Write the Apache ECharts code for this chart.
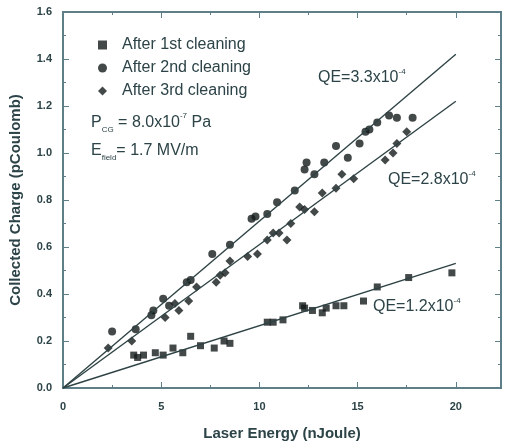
<!DOCTYPE html>
<html>
<head>
<meta charset="utf-8">
<script src="https://cdn.jsdelivr.net/npm/echarts@6/dist/echarts.min.js"></script>
<style>
  html, body { margin: 0; padding: 0; background: #fff; }
  #chart { width: 505px; height: 447px; }
</style>
</head>
<body>
<div id="chart"></div>
<script>
// values
const xTicks = [0, 5, 10, 15, 20];
const yTicks = [0, 0.2, 0.4, 0.6, 0.8, 1.0, 1.2, 1.4, 1.6];

const firstX = [3.6, 3.8, 4.1, 4.7, 5.1, 5.6, 6.1, 6.5, 7.0, 7.7, 8.2, 8.5, 10.4, 10.7, 11.2, 12.2, 12.3, 12.7, 13.2, 13.4, 13.9, 14.3, 15.3, 16.0, 17.6, 19.8];
const firstY = [0.14, 0.13, 0.14, 0.15, 0.14, 0.17, 0.15, 0.22, 0.18, 0.17, 0.20, 0.19, 0.28, 0.28, 0.29, 0.35, 0.34, 0.33, 0.32, 0.34, 0.35, 0.35, 0.37, 0.43, 0.47, 0.49];

const secondX = [2.5, 3.7, 4.5, 4.6, 5.1, 5.4, 6.3, 6.5, 7.6, 8.5, 9.6, 9.8, 10.4, 10.9, 11.8, 12.3, 12.4, 12.8, 13.3, 13.9, 14.5, 15.1, 15.4, 15.6, 16.0, 16.6, 17.0, 17.8];
const secondY = [0.24, 0.25, 0.31, 0.33, 0.38, 0.35, 0.45, 0.46, 0.57, 0.61, 0.72, 0.73, 0.74, 0.79, 0.84, 0.93, 0.96, 0.91, 0.96, 1.03, 0.98, 1.04, 1.09, 1.10, 1.13, 1.16, 1.15, 1.15];

const thirdX = [2.3, 3.5, 5.2, 5.7, 5.9, 6.4, 6.8, 7.8, 8.0, 8.25, 8.5, 9.4, 9.9, 10.4, 10.7, 11.0, 11.4, 11.6, 12.05, 12.3, 12.8, 13.2, 13.9, 14.2, 14.8, 16.4, 16.8, 17.0, 17.5];
const thirdY = [0.17, 0.20, 0.30, 0.36, 0.33, 0.37, 0.43, 0.45, 0.48, 0.49, 0.54, 0.56, 0.57, 0.63, 0.66, 0.66, 0.63, 0.70, 0.77, 0.76, 0.75, 0.83, 0.85, 0.91, 0.89, 0.97, 1.00, 1.04, 1.09];

// fitted QE lines: from origin to x = 20
const fitEndX = 20;
const fitEndY = [1.42, 1.22, 0.53];

const textColor = "#2c4347";
const axisColor = "#5f7f88";
const markColor = "#141a1a";
const font = "Liberation Sans";

const pairs = (xs, ys) => xs.map((x, i) => [x, ys[i]]);

const chart = echarts.init(document.getElementById("chart"));

// fresh axis object every time so the axes share nothing
function makeAxis(min, max, interval, extra) {
  return Object.assign({
    type: "value",
    min: min, max: max, interval: interval,
    axisLine: { show: true, onZero: false, lineStyle: { color: axisColor, width: 1.5 } },
    axisTick: { show: true, inside: true, length: 6 },
    minorTick: { show: true, splitNumber: 2, length: 3 },
    splitLine: { show: false },
    minorSplitLine: { show: false }
  }, extra);
}

// labels with a superscript exponent
function qeLabel(txt, left, top) {
  return {
    type: "text", left: left, top: top,
    style: {
      text: "{m|" + txt + "}{sup|-4}",
      rich: {
        m: { fontSize: 16, fontFamily: font, fill: textColor, lineHeight: 20, verticalAlign: "middle" },
        sup: { fontSize: 8, fontFamily: font, fill: textColor, lineHeight: 20, verticalAlign: "top" }
      }
    }
  };
}

const option = {
  animation: false,
  grid: { left: 62, top: 12, right: 4, bottom: 59, show: true, borderColor: axisColor, borderWidth: 2 },
  xAxis: [
    makeAxis(0, 22.3, 5, {
      position: "bottom",
      name: "Laser Energy (nJoule)",
      nameLocation: "middle",
      nameGap: 38,
      nameTextStyle: { color: textColor, fontSize: 15, fontWeight: "bold", fontFamily: font },
      axisLabel: {
        color: textColor, fontSize: 11, fontWeight: "bold", margin: 13, fontFamily: font,
        formatter: v => (xTicks.indexOf(v) >= 0 ? String(v) : "")
      }
    }),
    makeAxis(0, 22.3, 5, { position: "top", axisLabel: { show: false } })
  ],
  yAxis: [
    makeAxis(0, 1.6, 0.2, {
      position: "left",
      name: "Collected Charge (pCoulomb)",
      nameLocation: "middle",
      nameGap: 40,
      nameTextStyle: { color: textColor, fontSize: 15, fontWeight: "bold", fontFamily: font },
      axisLabel: {
        color: textColor, fontSize: 11, fontWeight: "bold", margin: 11, fontFamily: font,
        formatter: v => (yTicks.some(t => Math.abs(t - v) < 1e-6) ? v.toFixed(1) : "")
      }
    }),
    makeAxis(0, 1.6, 0.2, { position: "right", axisLabel: { show: false } })
  ],
  legend: {
    orient: "vertical",
    left: 93,
    top: 31,
    itemGap: 5,
    itemWidth: 9,
    itemHeight: 9,
    textStyle: { color: textColor, fontSize: 16, fontFamily: font, padding: [0, 0, 0, 10], lineHeight: 18 },
    data: ["After 1st cleaning", "After 2nd cleaning", "After 3rd cleaning"]
  },
  graphic: [
    {
      type: "text", left: 91, top: 112,
      style: {
        text: "{m|P}{sub|CG}{m| = 8.0x10}{sup|-7}{m| Pa}",
        rich: {
          m: { fontSize: 16, fontFamily: font, fill: textColor, lineHeight: 22, verticalAlign: "middle" },
          sub: { fontSize: 8, fontFamily: font, fill: textColor, lineHeight: 22, verticalAlign: "bottom" },
          sup: { fontSize: 8, fontFamily: font, fill: textColor, lineHeight: 22, verticalAlign: "top" }
        }
      }
    },
    {
      type: "text", left: 91, top: 143,
      style: {
        text: "{m|E}{sub|field}{m|= 1.7 MV/m}",
        rich: {
          m: { fontSize: 16, fontFamily: font, fill: textColor, lineHeight: 22, verticalAlign: "middle" },
          sub: { fontSize: 8, fontFamily: font, fill: textColor, lineHeight: 22, verticalAlign: "bottom" }
        }
      }
    },
    qeLabel("QE=3.3x10", 318, 68),
    qeLabel("QE=2.8x10", 388, 170),
    qeLabel("QE=1.2x10", 373, 297)
  ],
  series: [
    {
      name: "After 1st cleaning", type: "scatter", symbol: "rect", symbolSize: 7,
      xAxisIndex: 0, yAxisIndex: 0,
      itemStyle: { color: markColor }, data: pairs(firstX, firstY)
    },
    {
      name: "After 2nd cleaning", type: "scatter", symbol: "circle", symbolSize: 8,
      xAxisIndex: 0, yAxisIndex: 0,
      itemStyle: { color: markColor }, data: pairs(secondX, secondY)
    },
    {
      name: "After 3rd cleaning", type: "scatter", symbol: "diamond", symbolSize: 9,
      xAxisIndex: 0, yAxisIndex: 0,
      itemStyle: { color: markColor }, data: pairs(thirdX, thirdY)
    }
  ].concat(fitEndY.map(endY => ({
    type: "line", symbol: "none", silent: true,
    xAxisIndex: 0, yAxisIndex: 0,
    lineStyle: { color: "#2e4244", width: 1.4 },
    data: [[0, 0], [fitEndX, endY]]
  })))
};

chart.setOption(option);
</script>
</body>
</html>
